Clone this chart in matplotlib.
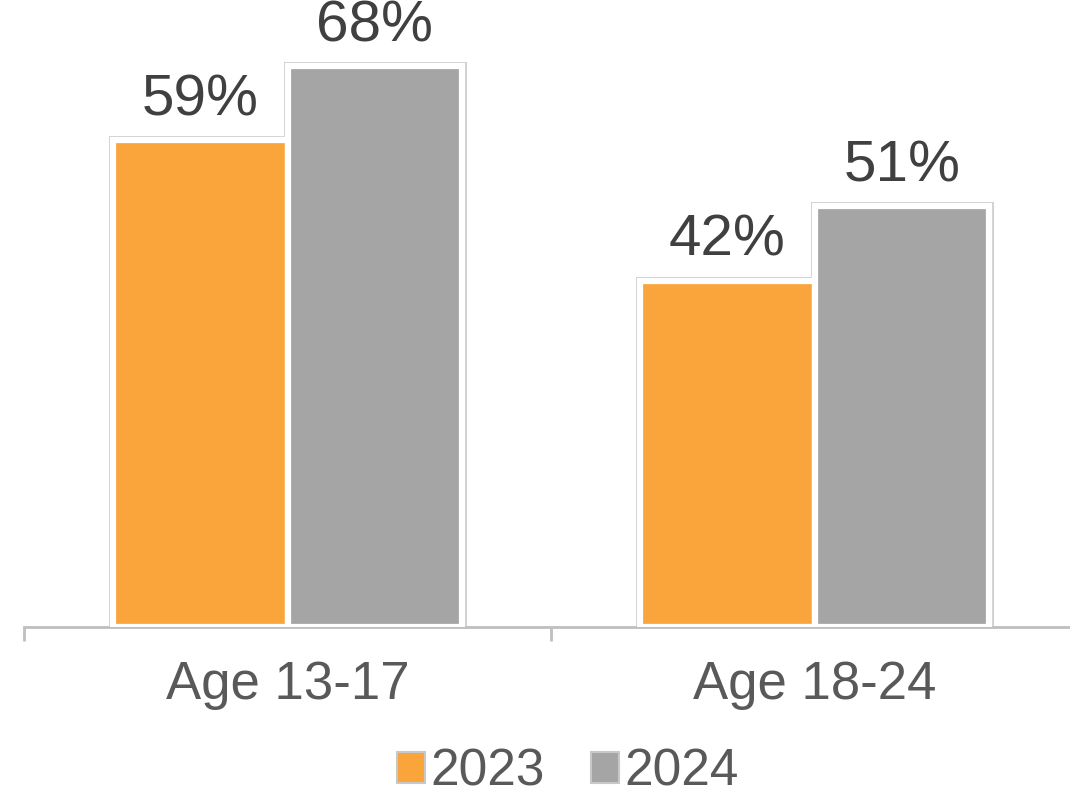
import matplotlib.pyplot as plt
import numpy as np
from matplotlib.patches import Patch

categories = ["Age 13-17", "Age 18-24"]
years = ["2023", "2024"]
values_2023 = [59, 42]
values_2024 = [68, 51]
colors = ["#FAA53C", "#A5A5A5"]

plt.rcParams['font.family'] = ['Liberation Sans', 'DejaVu Sans']

fig = plt.figure(figsize=(10.7, 7.95), dpi=100)
ax = fig.add_axes([24 / 1070, 1 - 627 / 795, 1054 / 1070, 627 / 795])

x = np.arange(len(categories))
width = 0.332
for i, (vals, col) in enumerate(zip([values_2023, values_2024], colors)):
    pos = x + (i - 0.5) * width
    # light outline behind the white bar border
    ax.bar(pos, vals, width, facecolor='none', edgecolor='#d0d0d0',
           linewidth=6.5, zorder=2)
    bars = ax.bar(pos, vals, width, color=col, edgecolor='white',
                  linewidth=4.5, zorder=3)
    for b, v in zip(bars, vals):
        ax.text(b.get_x() + b.get_width() / 2, v + 1.55, f"{v}%",
                ha='center', va='bottom', fontsize=42, color='#404040')

ax.set_xlim(-0.5, 1.5)
ax.set_ylim(0, 76)
ax.set_yticks([])
for s in ['top', 'right', 'left']:
    ax.spines[s].set_visible(False)
ax.spines['bottom'].set_color('#bfbfbf')
ax.spines['bottom'].set_linewidth(2)

ax.set_xticks(x)
ax.set_xticklabels(categories, fontsize=38, color='#595959')
ax.tick_params(axis='x', which='major', length=0, pad=24)
ax.set_xticks([-0.5, 0.5, 1.5], minor=True)
ax.tick_params(axis='x', which='minor', length=10, width=2, color='#bfbfbf')

handles = [Patch(facecolor=c, edgecolor='#c8c8c8', linewidth=1.5, label=y)
           for c, y in zip(colors, years)]
fig.legend(handles=handles, loc='center', bbox_to_anchor=(568 / 1070, 1 - 772 / 795),
           ncol=2, frameon=False, fontsize=37, labelcolor='#595959',
           handlelength=0.55, handleheight=0.55, handletextpad=0.1,
           columnspacing=0.9, borderaxespad=0)

fig.savefig("out.png", dpi=100)
